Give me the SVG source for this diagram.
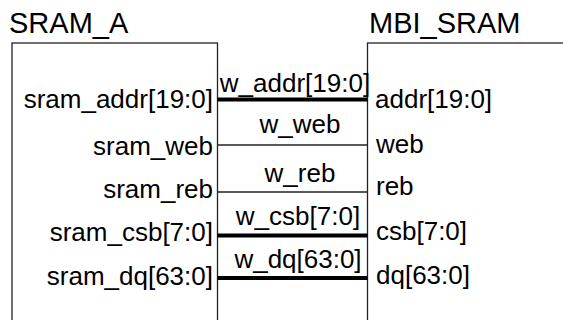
<svg xmlns="http://www.w3.org/2000/svg" width="563" height="320" viewBox="0 0 563 320">
  <style>
    .box { fill: #ffffff; stroke: #222222; stroke-width: 1.3; }
    .title { font-family: "Liberation Sans", Arial, sans-serif; font-size: 29px; fill: #000000; }
    .port { font-family: "Liberation Sans", Arial, sans-serif; font-size: 26px; fill: #000000; }
    .pl { text-anchor: end; }
    .wl { text-anchor: middle; }
    .bus { stroke: #000000; stroke-width: 4; fill: none; }
    .sig { stroke: #222222; stroke-width: 1.3; fill: none; }
  </style>
  <rect width="563" height="320" fill="#ffffff"/>

  <!-- left module -->
  <g id="sram_a">
    <rect class="box" x="12" y="43" width="205.5" height="290"/>
    <text class="title" x="9" y="33">SRAM_A</text>
    <text class="port pl" x="213" y="108">sram_addr[19:0]</text>
    <text class="port pl" x="213" y="155">sram_web</text>
    <text class="port pl" x="213" y="198">sram_reb</text>
    <text class="port pl" x="213" y="241">sram_csb[7:0]</text>
    <text class="port pl" x="213" y="285">sram_dq[63:0]</text>
  </g>

  <!-- right module -->
  <g id="mbi_sram">
    <rect class="box" x="367.5" y="43" width="210" height="290"/>
    <text class="title" x="369" y="33">MBI_SRAM</text>
    <text class="port" x="375" y="108">addr[19:0]</text>
    <text class="port" x="376" y="153">web</text>
    <text class="port" x="376" y="195">reb</text>
    <text class="port" x="376" y="240">csb[7:0]</text>
    <text class="port" x="376" y="284">dq[63:0]</text>
  </g>

  <!-- wires between the modules -->
  <g id="wires">
    <line class="bus" x1="217.5" y1="99.5" x2="367.5" y2="99.5"/>
    <line class="sig" x1="217.5" y1="145" x2="367.5" y2="145"/>
    <line class="sig" x1="217.5" y1="192" x2="367.5" y2="192"/>
    <line class="bus" x1="217.5" y1="235.5" x2="367.5" y2="235.5"/>
    <line class="bus" x1="217.5" y1="278" x2="367.5" y2="278"/>
    <text class="port wl" x="295" y="92">w_addr[19:0]</text>
    <text class="port wl" x="300" y="133">w_web</text>
    <text class="port wl" x="300" y="182">w_reb</text>
    <text class="port wl" x="298" y="225">w_csb[7:0]</text>
    <text class="port wl" x="298" y="268">w_dq[63:0]</text>
  </g>
</svg>
